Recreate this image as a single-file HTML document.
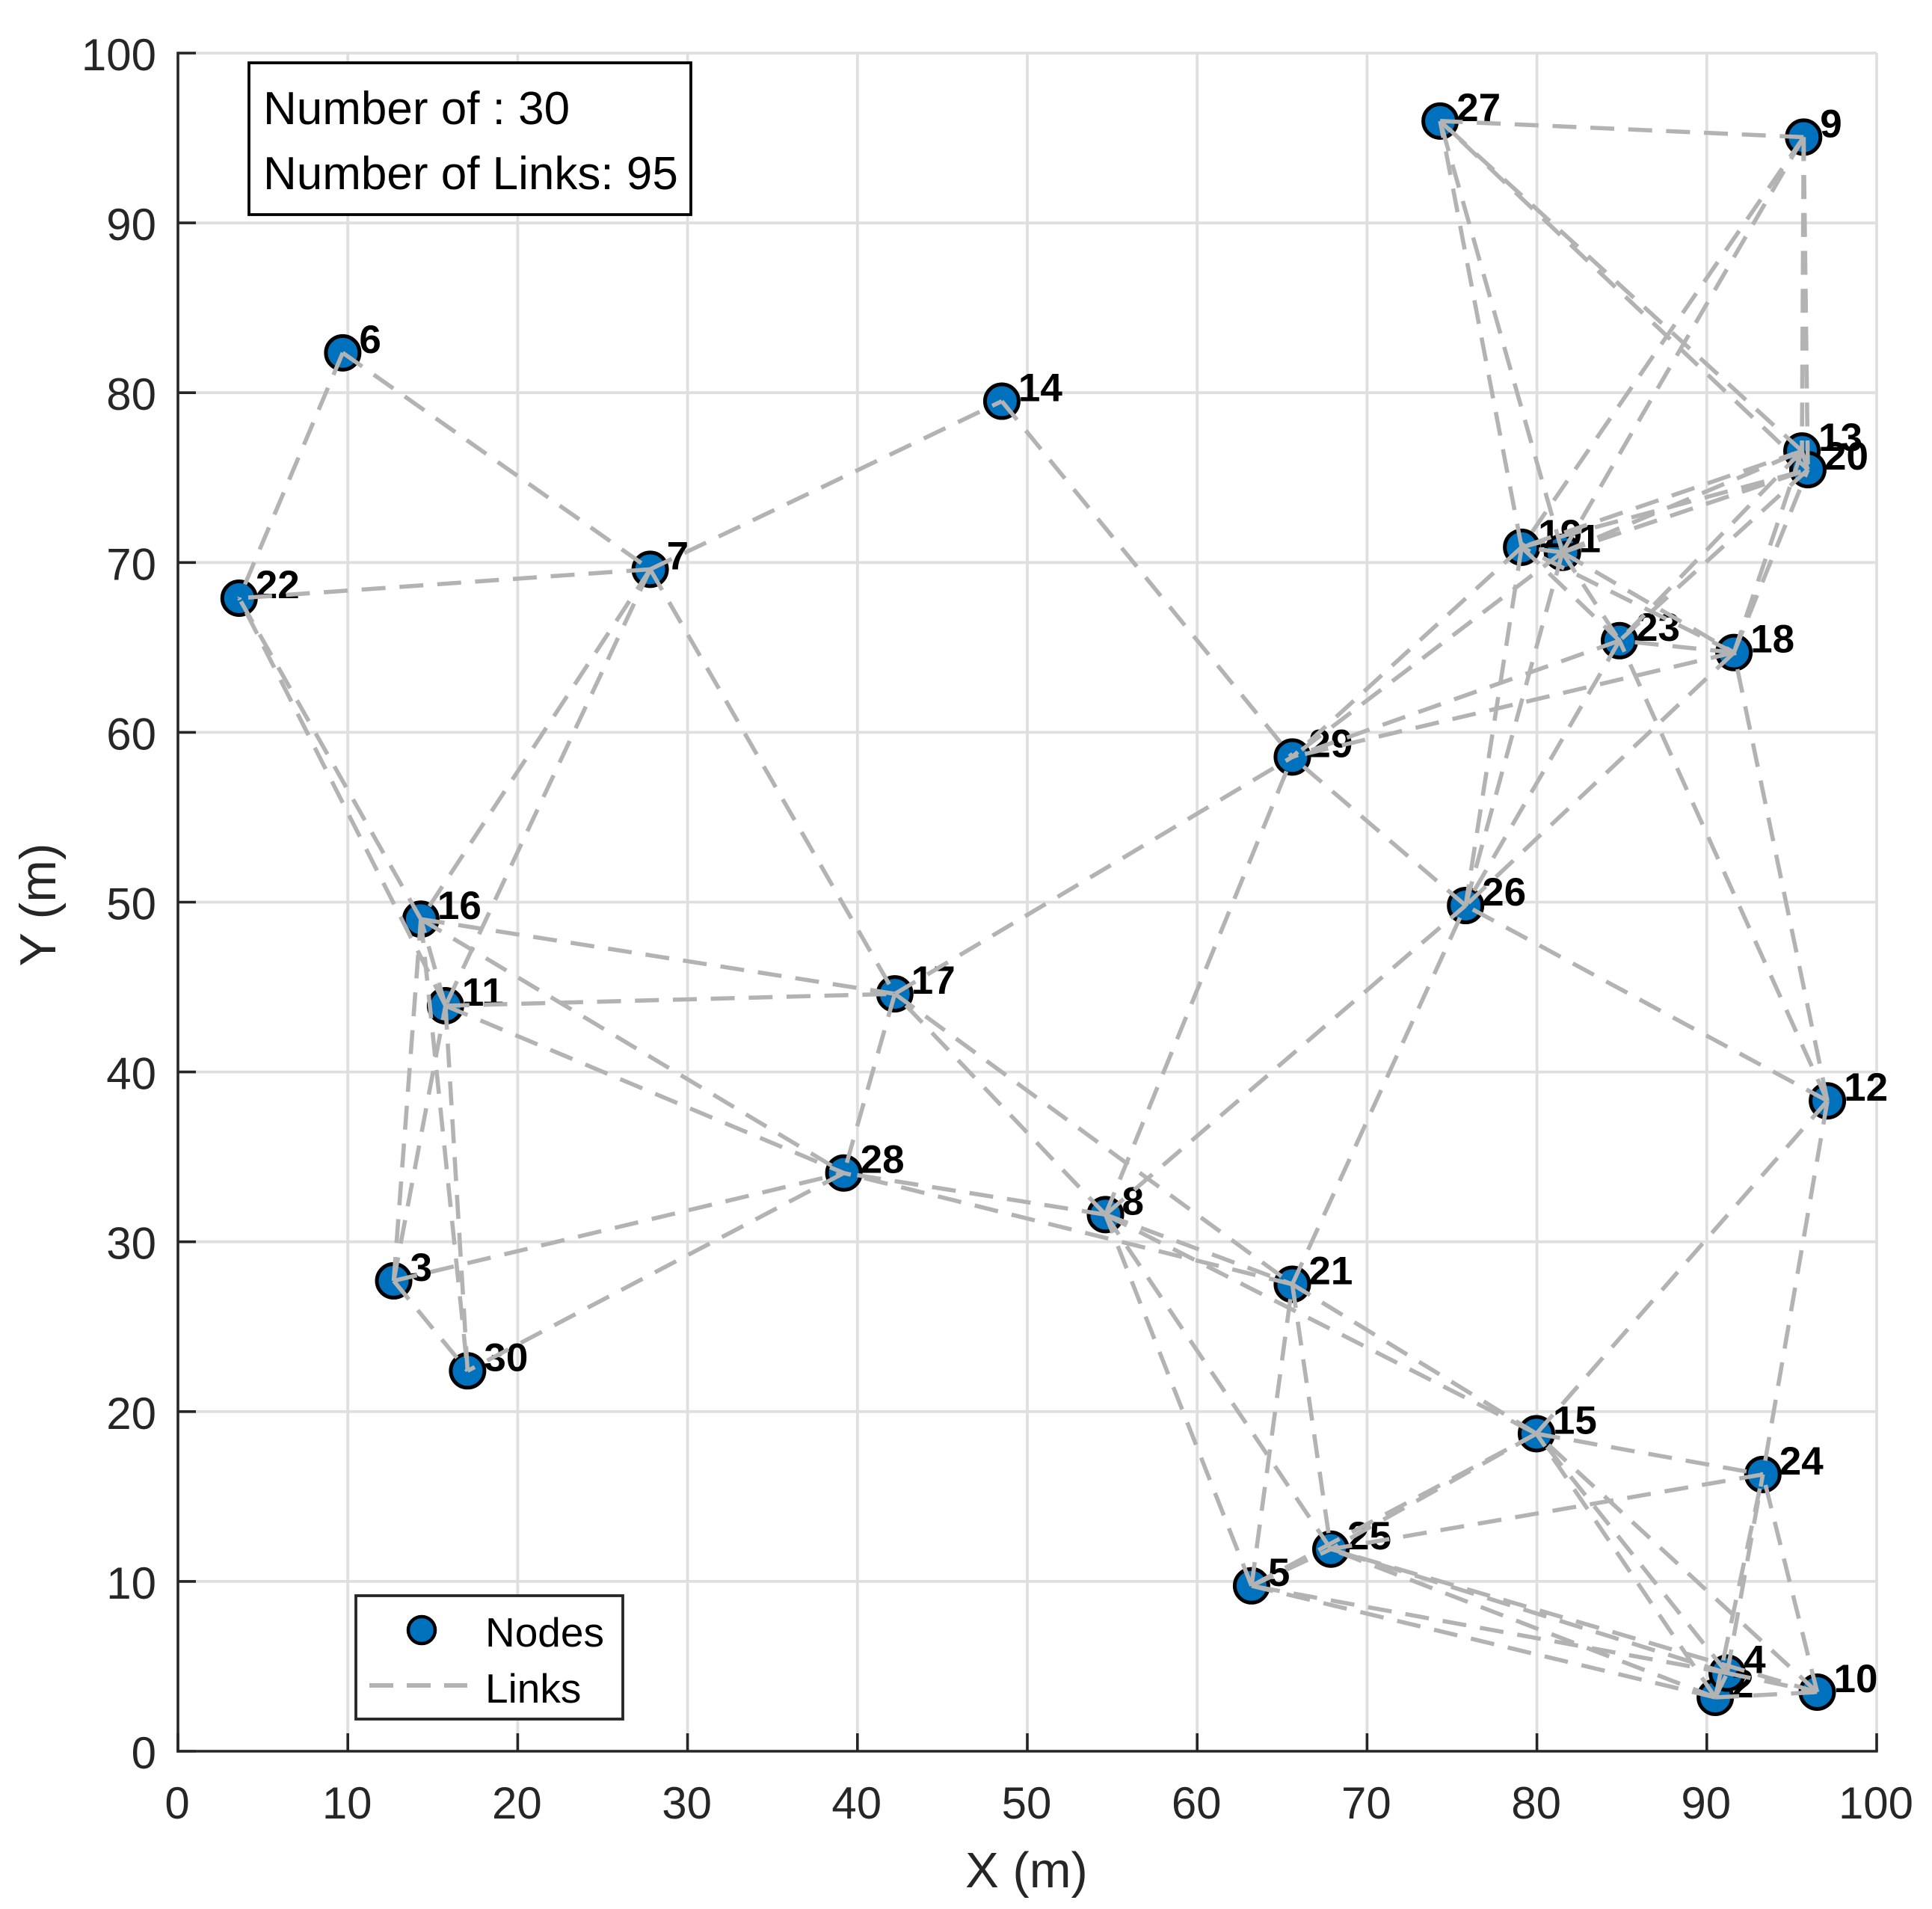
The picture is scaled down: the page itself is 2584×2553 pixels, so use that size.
<!DOCTYPE html>
<html lang="en">
<head>
<meta charset="utf-8">
<title>Network topology: nodes and links</title>
<style>
html,body{margin:0;padding:0;background:#fff;}
svg{display:block;font-family:"Liberation Sans",Arial,sans-serif;}
</style>
</head>
<body>
<svg id="chart" xmlns="http://www.w3.org/2000/svg" width="2584" height="2553" viewBox="0 0 2584 2553">
  <rect x="0" y="0" width="2584" height="2553" fill="#ffffff"/>
  <g id="grid"></g>
  <g id="nodes"></g>
  <g id="labels"></g>
  <g id="links"></g>
  <g id="axes"></g>
  <text x="1373" y="2524" font-size="67" fill="#262626" text-anchor="middle">X (m)</text>
  <text transform="translate(74,1210) rotate(-90)" font-size="68" fill="#262626" text-anchor="middle">Y (m)</text>
  <g>
    <rect x="333" y="84" width="591" height="203" fill="#ffffff" stroke="#000000" stroke-width="3.8"/>
    <text x="352" y="166" font-size="62" fill="#000000">Number of : 30</text>
    <text x="352" y="253" font-size="62" fill="#000000">Number of Links: 95</text>
  </g>
  <g>
    <rect x="476" y="2134" width="357" height="165" fill="#ffffff" stroke="#262626" stroke-width="3.8"/>
    <circle cx="564" cy="2180" r="18" fill="#0072BD" stroke="#000000" stroke-width="4.5"/>
    <text x="649" y="2202" font-size="55" fill="#000000">Nodes</text>
    <line x1="494" y1="2254" x2="625" y2="2254" stroke="#b3b3b3" stroke-width="6" stroke-dasharray="32 18"/>
    <text x="649" y="2277" font-size="55" fill="#000000">Links</text>
  </g>
</svg>
<script>
// Tick labels
const xTicks = [0,10,20,30,40,50,60,70,80,90,100];
const yTicks = [0,10,20,30,40,50,60,70,80,90,100];

// Node coordinates in metres, index 0 = node 1
const nodeIds = [1,2,3,4,5,6,7,8,9,10,11,12,13,14,15,16,17,18,19,20,21,22,23,24,25,26,27,28,29,30];
const nodeX = [81.5,90.5,12.7,91.2,63.2,9.7,27.8,54.6,95.7,96.5,15.75,97.1,95.6,48.5,79.97,14.3,42.2,91.6,79.1,95.95,65.6,3.6,84.86,93.3,67.87,75.8,74.3,39.2,65.6,17.05];
const nodeY = [70.6,3.17,27.7,4.6,9.74,82.35,69.6,31.6,95.05,3.48,43.9,38.3,76.57,79.5,18.7,49,44.6,64.7,70.9,75.47,27.5,67.9,65.4,16.3,11.9,49.8,96,34.05,58.55,22.4];

// Links: start node and end node ids
const linkFrom = [6,6,7,16,11,7,7,7,7,14,16,16,3,16,11,11,3,11,3,3,28,17,8,17,17,8,21,8,8,5,8,8,8,15,21,5,21,15,5,15,12,4,2,10,24,5,4,2,10,4,2,4,2,10,2,4,2,12,12,12,12,26,19,1,23,18,19,1,23,18,9,13,20,19,1,9,1,9,9,13,1,13,13,19,1,18,20,1,19,18,1,1,18,11,13];
const linkTo = [7,22,22,22,22,16,11,14,17,29,17,28,16,30,17,28,11,30,28,30,30,28,17,21,29,28,28,21,15,8,25,26,29,21,26,21,25,25,15,24,15,15,15,15,25,25,25,25,25,5,5,24,24,24,10,10,4,24,26,18,23,29,26,26,26,26,29,29,29,29,27,27,27,27,27,19,9,13,20,19,13,18,23,20,20,20,23,19,23,19,23,18,23,16,20];

// Axis functions
function sx(v){ return 238 + v * 22.72; }
function sy(v){ return 2342 - v * 22.71; }

const NS = 'http://www.w3.org/2000/svg';
function mk(tag, attrs, parent){
  const el = document.createElementNS(NS, tag);
  for (const k in attrs) el.setAttribute(k, attrs[k]);
  parent.appendChild(el);
  return el;
}

const gridG = document.getElementById('grid');
const axesG = document.getElementById('axes');
const nodesG = document.getElementById('nodes');
const labelsG = document.getElementById('labels');
const linksG = document.getElementById('links');

// Grid
xTicks.forEach(function(t){
  if (t === 0) return;
  const g = mk('line', {x1:sx(t), y1:sy(0), x2:sx(t), y2:sy(100), stroke:'#dfdfdf', 'stroke-width':3.8}, gridG);
  
  
});
yTicks.forEach(function(t){
  if (t === 0) return;
  const g = mk('line', {x1:sx(0), y1:sy(t), x2:sx(100), y2:sy(t), stroke:'#dfdfdf', 'stroke-width':3.8}, gridG);
  
  
});

// Nodes
nodeIds.forEach(function(id, i){
  const c = mk('circle', {cx:sx(nodeX[i]), cy:sy(nodeY[i]), r:22.5, fill:'#0072BD', stroke:'#000000', 'stroke-width':5}, nodesG);
  
  
});

// Node labels
nodeIds.forEach(function(id, i){
  const t = mk('text', {x:sx(nodeX[i]) + 22, y:sy(nodeY[i]), 'font-size':53, 'font-weight':'bold', fill:'#000000'}, labelsG);
  t.textContent = String(id);
  
  
});

// Links
linkFrom.forEach(function(a, i){
  const b = linkTo[i];
  const ia = nodeIds.indexOf(a);
  const ib = nodeIds.indexOf(b);
  const l = mk('line', {
    x1:sx(nodeX[ia]), y1:sy(nodeY[ia]),
    x2:sx(nodeX[ib]), y2:sy(nodeY[ib]),
    stroke:'#b3b3b3', 'stroke-width':5.6, 'stroke-dasharray':'32 18.7'
  }, linksG);
  
  
});

// Axes, ticks and tick labels
const xAxis = mk('line', {x1:sx(0)-1.7, y1:sy(0), x2:sx(100)+1.7, y2:sy(0), stroke:'#262626', 'stroke-width':3.6}, axesG);


const yAxis = mk('line', {x1:sx(0), y1:sy(0)+1.7, x2:sx(0), y2:sy(100)-1.7, stroke:'#262626', 'stroke-width':3.6}, axesG);



xTicks.forEach(function(t){
  const m = mk('line', {x1:sx(t), y1:sy(0), x2:sx(t), y2:sy(0)-24, stroke:'#262626', 'stroke-width':3.6}, axesG);
  
  
  const lab = mk('text', {x:sx(t)-1, y:2432, 'font-size':60, fill:'#262626', 'text-anchor':'middle'}, axesG);
  lab.textContent = String(t);
  
  
});
yTicks.forEach(function(t){
  const m = mk('line', {x1:sx(0), y1:sy(t), x2:sx(0)+24, y2:sy(t), stroke:'#262626', 'stroke-width':3.6}, axesG);
  
  
  const lab = mk('text', {x:209, y:sy(t)+23, 'font-size':60, fill:'#262626', 'text-anchor':'end'}, axesG);
  lab.textContent = String(t);
  
  
});
</script>
</body>
</html>
